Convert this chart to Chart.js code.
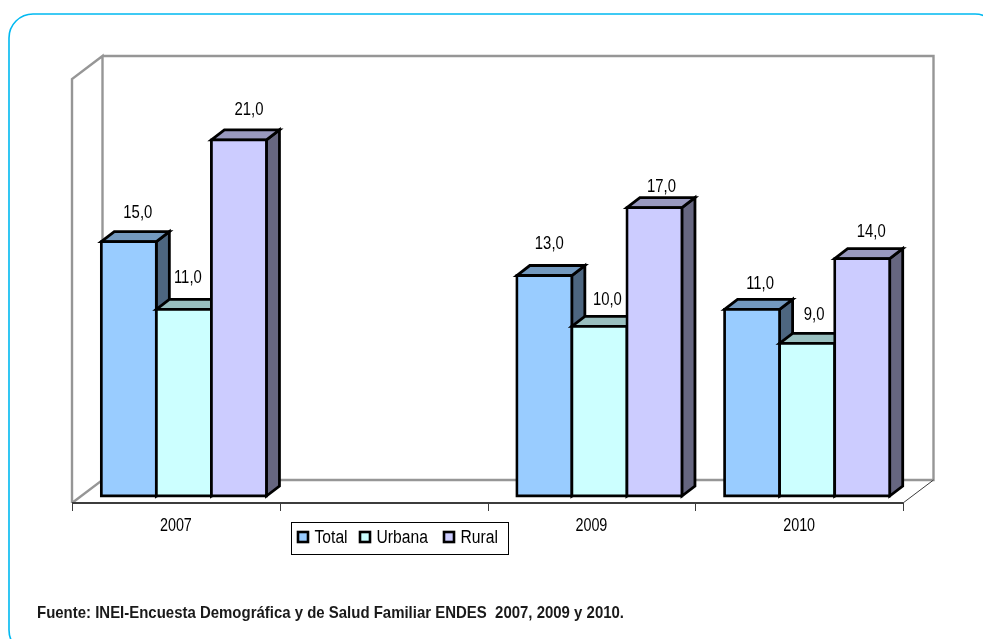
<!DOCTYPE html>
<html><head><meta charset="utf-8">
<style>html,body{margin:0;padding:0;background:#fff}canvas{display:block}</style>
<script src="https://cdn.jsdelivr.net/npm/chart.js@4"></script>
</head><body><canvas id="c" width="983" height="639"></canvas>
<script>
const categories = ['2007', '', '2009', '2010'];
const total = [15, null, 13, 11];
const urbana = [11, null, 10, 9];
const rural = [21, null, 17, 14];
const sourceNote = 'Fuente: INEI-Encuesta Demográfica y de Salud Familiar ENDES  2007, 2009 y 2010.';
const FONT = '"Liberation Sans",Arial,sans-serif';

const DEPTH_FRONT = {x: -8, y: 7};
const DEPTH_BACK = {x: 22.5, y: -16};
const BAR_DEPTH = {x: 13, y: -10};
const LABEL_NUDGE = [
  [[9, -28], null, [5, -31], [8, -25]],
  [[4, -31], null, [8, -26], [7, -28]],
  [[10, -30], null, [7, -21], [9, -26]]
];
const shade = (rgb, f) => `rgb(${rgb.map(v => Math.round(v * f)).join(',')})`;
const poly = (ctx, pts) => {
  ctx.beginPath();
  pts.forEach((p, i) => i ? ctx.lineTo(p[0], p[1]) : ctx.moveTo(p[0], p[1]));
  ctx.closePath();
};
// condensed text: the reference face is a narrow grotesque
function narrowText(c, str, x, y, font, sx, align) {
  c.save();
  c.font = font;
  c.textAlign = align || 'center';
  c.textBaseline = 'middle';
  c.translate(x, y);
  c.scale(sx, 1);
  c.fillText(str, 0, 0);
  c.restore();
}

function drawWalls(chart) {
  const c = chart.ctx, a = chart.chartArea;
  const fx = a.left + DEPTH_FRONT.x, fr = a.right + DEPTH_FRONT.x, fb = a.bottom + DEPTH_FRONT.y;
  const bx = a.left + DEPTH_BACK.x, br = a.right + DEPTH_BACK.x, bb = a.bottom + DEPTH_BACK.y, bt = a.top + DEPTH_BACK.y;
  const ft = a.top + DEPTH_FRONT.y;
  c.save();
  c.strokeStyle = '#969696';
  c.lineWidth = 2.4;
  c.beginPath();
  c.moveTo(fx, fb); c.lineTo(fx, ft); c.lineTo(bx, bt); c.lineTo(bx, bb); c.lineTo(fx, fb);
  c.moveTo(bx, bt); c.lineTo(br, bt); c.lineTo(br, bb); c.lineTo(bx, bb);
  c.stroke();
  c.strokeStyle = '#3c3c3c';
  c.lineWidth = 2;
  c.beginPath(); c.moveTo(fx, fb); c.lineTo(fr, fb); c.stroke();
  c.lineWidth = 1;
  c.beginPath();
  c.moveTo(fr, fb); c.lineTo(br, bb);
  const n = categories.length, w = (fr - fx) / n;
  for (let i = 0; i <= n; i++) {
    const x = Math.round(fx + i * w) + 0.5;
    c.moveTo(x, fb); c.lineTo(x, fb + 8);
  }
  c.stroke();
  c.restore();
}

function drawBarDepth(chart, di) {
  const c = chart.ctx, meta = chart.getDatasetMeta(di), ds = chart.data.datasets[di];
  c.save();
  c.strokeStyle = '#000';
  c.lineWidth = 2.8;
  meta.data.forEach((b, i) => {
    if (ds.data[i] == null) return;
    const r = b.x + b.width / 2, l = b.x - b.width / 2, t = b.y, bo = b.base, d = BAR_DEPTH;
    poly(c, [[r, t], [r + d.x, t + d.y], [r + d.x, bo + d.y], [r, bo]]);
    c.fillStyle = shade(ds.rgb, 0.5); c.fill(); c.stroke();
    poly(c, [[l, t], [l + d.x, t + d.y], [r + d.x, t + d.y], [r, t]]);
    c.fillStyle = shade(ds.rgb, 0.75); c.fill(); c.stroke();
  });
  c.restore();
}

const scene = {
  id: 'scene',
  beforeDraw(chart) {
    const c = chart.ctx;
    c.save();
    c.fillStyle = '#fff';
    c.fillRect(0, 0, chart.width, chart.height);
    c.strokeStyle = '#00B9F1';
    c.lineWidth = 1.6;
    c.beginPath();
    c.roundRect(9, 14, 990, 640, 24);
    c.stroke();
    c.restore();
  },
  beforeDatasetsDraw(chart) {
    drawWalls(chart);
    // left-to-right so each bar's front hides its neighbour's side face
    chart.data.datasets.forEach((ds, di) => {
      drawBarDepth(chart, di);
      chart.getDatasetMeta(di).controller.draw();
    });
    return false;
  },
  afterDraw(chart) {
    const c = chart.ctx, xs = chart.scales.x;
    c.save();
    c.fillStyle = '#000';
    chart.data.datasets.forEach((ds, di) => {
      chart.getDatasetMeta(di).data.forEach((b, i) => {
        const v = ds.data[i];
        if (v == null) return;
        const n = LABEL_NUDGE[di][i];
        narrowText(c, v.toFixed(1).replace('.', ','), b.x + n[0], b.y + n[1], '17.5px ' + FONT, 0.85);
      });
    });
    categories.forEach((label, i) => {
      if (label) narrowText(c, label, xs.getPixelForValue(i) + DEPTH_FRONT.x, 526.5, '17.5px ' + FONT, 0.82);
    });
    c.fillStyle = '#fff';
    c.fillRect(291.5, 522.5, 217, 32);
    c.strokeStyle = '#000';
    c.lineWidth = 1;
    c.strokeRect(291.5, 522.5, 217, 32);
    const sw = [297, 359, 443];
    chart.data.datasets.forEach((ds, di) => {
      c.fillStyle = ds.backgroundColor;
      c.lineWidth = 2.6;
      c.fillRect(sw[di] + 1, 532, 10, 10);
      c.strokeRect(sw[di] + 1, 532, 10, 10);
      c.fillStyle = '#000';
      narrowText(c, ds.label, sw[di] + 17.5, 538.5, '18px ' + FONT, 0.87, 'left');
    });
    c.fillStyle = '#1a1a1a';
    narrowText(c, sourceNote, 37, 613, 'bold 17px ' + FONT, 0.88, 'left');
    c.restore();
  }
};

new Chart(document.getElementById('c'), {
  type: 'bar',
  data: {
    labels: categories,
    datasets: [
      {label: 'Total', data: total, backgroundColor: '#99CCFF', rgb: [153, 204, 255]},
      {label: 'Urbana', data: urbana, backgroundColor: '#CCFFFF', rgb: [204, 255, 255]},
      {label: 'Rural', data: rural, backgroundColor: '#CCCCFF', rgb: [204, 204, 255]}
    ]
  },
  options: {
    responsive: false,
    animation: false,
    layout: {padding: {left: 80, right: 72, top: 72, bottom: 103}},
    datasets: {bar: {
      categoryPercentage: 0.795, barPercentage: 1,
      borderColor: '#000', borderWidth: 2.8, inflateAmount: 1.4,
      borderSkipped: false, clip: false
    }},
    plugins: {legend: {display: false}, title: {display: false}, tooltip: {enabled: false}},
    scales: {
      y: {display: false, min: 0, max: 25},
      x: {
        afterFit(s) { s.height = 40; },
        grid: {display: false},
        border: {display: false},
        ticks: {display: false}
      }
    }
  },
  plugins: [scene]
});
</script></body></html>
